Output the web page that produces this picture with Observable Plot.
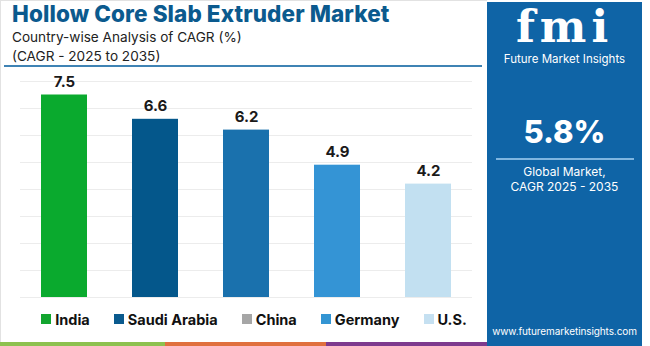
<!DOCTYPE html>
<html>
<head>
<meta charset="utf-8">
<script src="https://cdn.jsdelivr.net/npm/d3@7"></script>
<script src="https://cdn.jsdelivr.net/npm/@observablehq/plot@0.6"></script>
<style>
  html, body { margin: 0; padding: 0; background: #fff; }
  #root { position: relative; width: 650px; height: 346px; overflow: hidden; background: #fff; font-family: Inter, "Open Sans", sans-serif; }
  #title { position: absolute; left: 12px; top: 1px; font-size: 22.5px; line-height: 26px; font-weight: 800; color: #0b5a8e; white-space: nowrap; letter-spacing: 0.1px; }
  .sub { position: absolute; left: 12px; font-size: 13.6px; line-height: 18px; color: #222; white-space: nowrap; }
  #rule { position: absolute; left: 4px; top: 65px; width: 478px; height: 2px; background: #3f83b4; }
  #chart { position: absolute; left: 0; top: 70px; }
  #legend { position: absolute; left: 0; width: 508px; top: 309px; height: 20px; display: flex; justify-content: center; align-items: center; }
  .item { display: flex; align-items: center; margin: 0 12px; font-size: 14.5px; font-weight: 700; color: #111; white-space: nowrap; }
  .sw { width: 10px; height: 10px; margin-right: 4px; }
  #panel { position: absolute; left: 487px; top: 2px; width: 155px; height: 344px; background: #0f64a6; color: #fff; text-align: center; }
  #logo { position: absolute; left: 0; width: 155px; top: 8px; font-family: "DejaVu Serif", serif; font-weight: 700; font-size: 44px; line-height: 34px; letter-spacing: 5px; }
  #logosub { position: absolute; left: 0; width: 155px; top: 50px; font-size: 11.5px; line-height: 14px; }
  #big { position: absolute; left: 0; width: 155px; top: 110px; font-size: 31px; line-height: 40px; font-weight: 800; }
  #pline { position: absolute; left: 9px; width: 138px; top: 156px; height: 2px; background: #7fb6e0; }
  .ptxt { position: absolute; left: 0; width: 155px; font-size: 12px; line-height: 15px; }
  #url { position: absolute; left: 0; width: 155px; top: 322px; font-size: 10px; line-height: 14px; letter-spacing: -0.1px; }
  .strip { position: absolute; top: 342px; height: 4px; }
  #topb { position: absolute; left: 0; top: 0; width: 487px; height: 1px; background: #e2e2e2; }
  #leftb { position: absolute; left: 0; top: 0; width: 1px; height: 342px; background: #e2e2e2; }
</style>
</head>
<body>
<div id="root">
  <div id="topb"></div>
  <div id="leftb"></div>
  <div id="title">Hollow Core Slab Extruder Market</div>
  <div class="sub" style="top:28px">Country-wise Analysis of CAGR (%)</div>
  <div class="sub" style="top:47px">(CAGR - 2025 to 2035)</div>
  <div id="rule"></div>
  <div id="chart"></div>
  <div id="legend"></div>
  <div id="panel">
    <div id="logo">fmi</div>
    <div id="logosub">Future Market Insights</div>
    <div id="big">5.8%</div>
    <div id="pline"></div>
    <div class="ptxt" style="top:162px">Global Market,</div>
    <div class="ptxt" style="top:177px">CAGR 2025 - 2035</div>
    <div id="url">www.futuremarketinsights.com</div>
  </div>
  <div class="strip" style="left:0;width:165px;background:#8dc14f"></div>
  <div class="strip" style="left:165px;width:161px;background:#e0703e"></div>
  <div class="strip" style="left:326px;width:161px;background:#7e3a8e"></div>
</div>
<script>
const countries = ["India", "Saudi Arabia", "China", "Germany", "U.S."];
const cagr = [7.5, 6.6, 6.2, 4.9, 4.2];
const barColors = ["#0aaa2e", "#04578b", "#1a71ad", "#3494d5", "#c2e0f1"];
const legendColors = ["#12a52f", "#0a5a8e", "#a6a6a6", "#3395d3", "#c5e0f1"];
const yTicks = [0, 1, 2, 3, 4, 5, 6, 7, 8];

const data = countries.map((c, i) => ({country: c, value: cagr[i]}));

const chart = Plot.plot({
  width: 487,
  height: 232,
  marginTop: 11,
  marginBottom: 5,
  marginLeft: 20,
  marginRight: 15,
  x: {domain: countries, paddingInner: 0.5, paddingOuter: 0.233, axis: null},
  y: {domain: [0, 8], axis: null},
  color: {domain: countries, range: barColors},
  style: {background: "transparent", fontFamily: "Inter, sans-serif"},
  marks: [
    Plot.ruleY(yTicks, {stroke: "#ececec", strokeWidth: 1}),
    Plot.barY(data, {x: "country", y: "value", fill: "country"}),
    Plot.text(data, {x: "country", y: "value", text: d => d.value.toFixed(1), dy: -13, fontSize: 15, fontWeight: "bold", fill: "#1a1a1a"})
  ]
});
document.getElementById("chart").appendChild(chart);

const legend = document.getElementById("legend");
countries.forEach((c, i) => {
  const item = document.createElement("div");
  item.className = "item";
  const sw = document.createElement("div");
  sw.className = "sw";
  sw.style.background = legendColors[i];
  const label = document.createElement("span");
  label.textContent = c;
  item.appendChild(sw);
  item.appendChild(label);
  legend.appendChild(item);
});
</script>
</body>
</html>
